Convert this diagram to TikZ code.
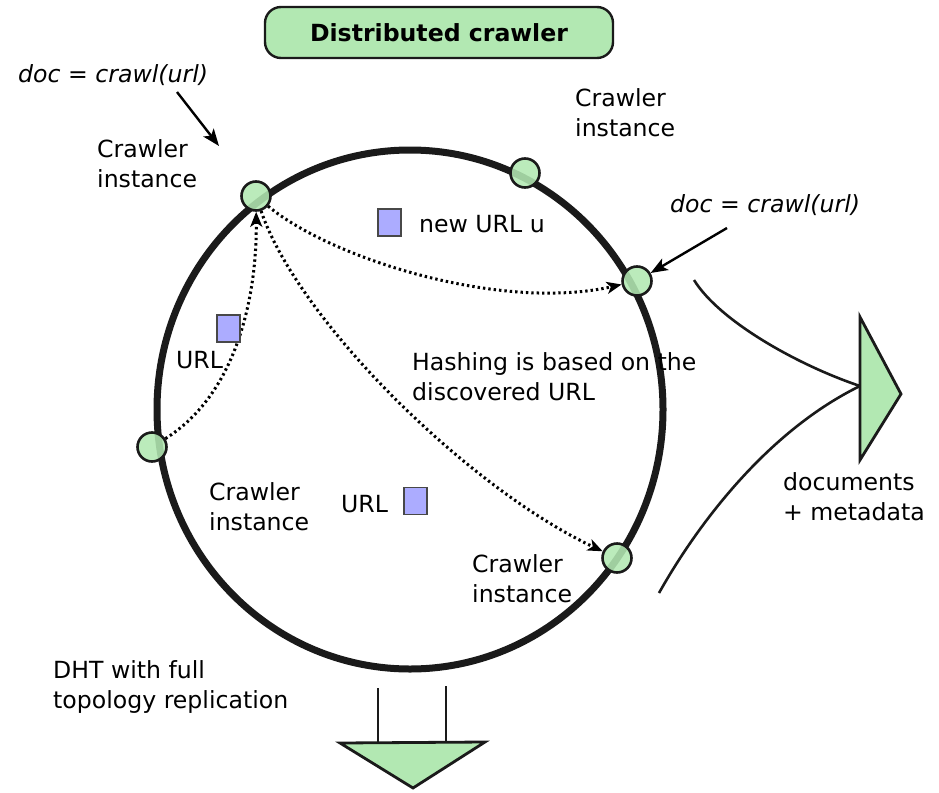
\documentclass[tikz,border=0pt]{standalone}
\usepackage{fontspec}
\setmainfont{DejaVu Sans}
\usetikzlibrary{arrows.meta}
\definecolor{mint}{RGB}{178,232,178}
\definecolor{lilac}{RGB}{172,172,255}
\definecolor{ink}{RGB}{26,26,26}
\tikzset{
  lbl/.style={font=\fontsize{23.6}{29.5}\selectfont, inner sep=0pt, anchor=base west, align=left},
  formula/.style={lbl, font=\fontsize{23.6}{29.5}\selectfont\itshape},
  inst/.style={circle, draw=ink, line width=2.6pt, fill=mint, fill opacity=0.88, text opacity=1, minimum size=29pt, inner sep=0pt},
  urlbox/.style={draw=ink!80, line width=1.6pt, fill=lilac, minimum width=23pt, minimum height=27pt, inner sep=0pt},
  hop/.style={line width=3pt, dash pattern=on 2.4pt off 3pt, -{Stealth[length=15pt,width=12pt,inset=4pt]}},
  pointer/.style={line width=2.4pt, -{Stealth[length=17pt,width=13pt,inset=4pt]}},
  flow/.style={line width=2.6pt, ink},
  funnel/.style={draw=ink, line width=2.8pt, fill=mint, line join=miter}
}
\begin{document}
\begin{tikzpicture}[x=1pt,y=-1pt]
\useasboundingbox (0,0) rectangle (939,792);

% title
\node[draw=ink, line width=2.4pt, fill=mint, rounded corners=16pt,
      minimum width=348pt, minimum height=51pt, inner sep=0pt,
      font=\fontsize{23.6}{29.5}\selectfont\bfseries] (title) at (439,32.5) {Distributed crawler};

% the DHT ring
\draw[ink, line width=7pt] (410,409.5) ellipse [x radius=253, y radius=259.5];

% crawler instances on the ring
\node[inst] (A) at (256,196) {};
\node[inst] (B) at (525,173) {};
\node[inst] (C) at (637,281) {};
\node[inst] (D) at (152,447) {};
\node[inst] (E) at (617,558) {};

% URL forwarding between instances
\draw[hop] (D) .. controls (235,395) and (257,300) .. (A);
\draw[hop] (A) .. controls (330,258) and (500,312) .. (C);
\draw[hop] (A) .. controls (298,320) and (468,488) .. (E);

% URLs
\node[urlbox] (u1) at (389.5,222.5) {};
\node[urlbox] (u2) at (228.5,328.5) {};
\node[urlbox] (u3) at (415.5,501) {};

% labels
\node[formula] (f1) at (18,82) {doc = crawl(url)};
\node[formula] (f2) at (670,212) {doc = crawl(url)};
\coordinate (f1s) at (177,92);
\coordinate (f2s) at (727,228);
\draw[pointer] (f1s) -- (219,146) coordinate (f1e);
\draw[pointer] (f2s) -- (C);

% multi-line labels: positioned on the baseline of their last line
\node[lbl] (c1) at (97,187) {Crawler\\instance};
\node[lbl] (c2) at (575,136) {Crawler\\instance};
\node[lbl] (c3) at (209,530) {Crawler\\instance};
\node[lbl] (c4) at (472,602) {Crawler\\instance};
\node[lbl] (nu) at (419,232) {new URL u};
\node[lbl] (l2) at (176,368) {URL};
\node[lbl] (l3) at (341,512) {URL};
\node[lbl] (hash) at (412,400) {Hashing is based on the\\discovered URL};
\node[lbl] (dht) at (53,708) {DHT with full\\topology replication};
\node[lbl] (docs) at (783,520) {documents\\+ metadata};

% output to the right
\coordinate (r1) at (860,317);
\coordinate (r2) at (860,460);
\coordinate (r3) at (901,394);
\coordinate (rin) at (860,386);
\coordinate (rs1) at (694,280);
\coordinate (rs2) at (659,593);
\draw[flow] (rs1) .. controls (720,322) and (800,366) .. (rin);
\draw[flow] (rs2) .. controls (700,520) and (770,430) .. (rin);
\draw[funnel] (r1) -- (r3) -- (r2) -- cycle;

% output downwards
\coordinate (b1) at (340,743);
\coordinate (b2) at (485,742);
\coordinate (b3) at (413,788);
\coordinate (v1t) at (378,688);
\coordinate (v1b) at (378,742);
\coordinate (v2t) at (446,686);
\coordinate (v2b) at (446,742);
\draw[flow] (v1t) -- (v1b);
\draw[flow] (v2t) -- (v2b);
\draw[funnel] (b1) -- (b2) -- (b3) -- cycle;
\end{tikzpicture}
\end{document}
